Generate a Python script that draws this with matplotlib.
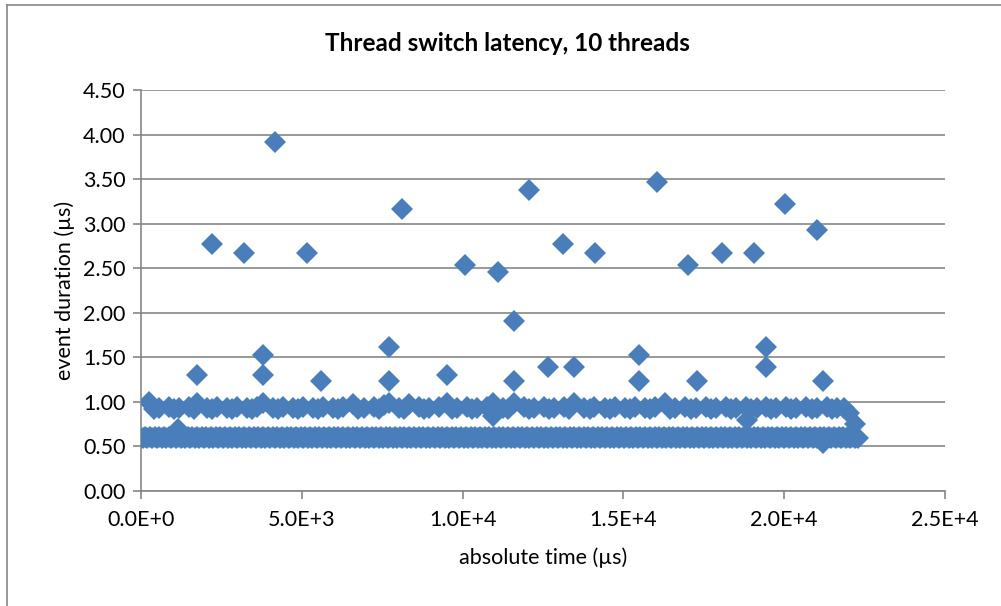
import matplotlib
matplotlib.use("Agg")
import matplotlib.pyplot as plt
from matplotlib.lines import Line2D

# base band, every event sits near 0.60 us (times in us)
base_t = [60, 200, 350, 490, 640, 790, 930, 1080, 1230, 1370, 1520, 1670, 1810, 1960,
          2110, 2250, 2400, 2550, 2690, 2840, 2990, 3130, 3280, 3430, 3570, 3720, 3870,
          4010, 4160, 4310, 4450, 4600, 4750, 4890, 5040, 5190, 5330, 5480, 5630, 5770,
          5920, 6070, 6210, 6360, 6510, 6650, 6800, 6950, 7090, 7240, 7390, 7530, 7680,
          7830, 7970, 8120, 8270, 8410, 8560, 8710, 8850, 9000, 9150, 9290, 9440, 9590,
          9730, 9880, 10030, 10170, 10320, 10470, 10610, 10760, 10910, 11050, 11200,
          11350, 11490, 11640, 11790, 11930, 12080, 12230, 12370, 12520, 12670, 12810,
          12960, 13110, 13250, 13400, 13550, 13690, 13840, 13990, 14130, 14280, 14430,
          14570, 14720, 14870, 15010, 15160, 15310, 15450, 15600, 15750, 15890, 16040,
          16190, 16330, 16480, 16630, 16770, 16920, 17070, 17210, 17360, 17510, 17650,
          17800, 17950, 18090, 18240, 18390, 18530, 18680, 18830, 18970, 19120, 19270,
          19410, 19560, 19710, 19850, 20000, 20150, 20290, 20440, 20590, 20730, 20880,
          21030, 21170, 21320, 21470, 21610, 21760, 21910, 22050, 22200, 22280]
# more events in the same band, slightly longer (0.61 us)
base2_t = [130, 280, 420, 570, 710, 860, 1010, 1150, 1300, 1450, 1590, 1740, 1890, 2030,
           2180, 2330, 2470, 2620, 2770, 2910, 3060, 3210, 3350, 3500, 3650, 3790, 3940,
           4090, 4230, 4380, 4530, 4670, 4820, 4970, 5110, 5260, 5410, 5550, 5700, 5850,
           5990, 6140, 6290, 6430, 6580, 6730, 6870, 7020, 7170, 7310, 7460, 7610, 7750,
           7900, 8050, 8190, 8340, 8490, 8630, 8780, 8930, 9070, 9220, 9370, 9510, 9660,
           9810, 9950, 10100, 10250, 10390, 10540, 10690, 10830, 10980, 11130, 11270,
           11420, 11570, 11710, 11860, 12010, 12150, 12300, 12450, 12590, 12740, 12890,
           13030, 13180, 13330, 13470, 13620, 13770, 13910, 14060, 14210, 14350, 14500,
           14650, 14790, 14940, 15090, 15230, 15380, 15530, 15670, 15820, 15970, 16110,
           16260, 16410, 16550, 16700, 16850, 16990, 17140, 17290, 17430, 17580, 17730,
           17870, 18020, 18170, 18310, 18460, 18610, 18750, 18900, 19050, 19190, 19340,
           19490, 19630, 19780, 19930, 20070, 20220, 20370, 20510, 20660, 20810, 20950,
           21100, 21250, 21390, 21540, 21690, 21830, 21980, 22120, 22240]

# second band around 0.93 - 1.00 us
mid_t = [250, 560, 880, 1190, 1500, 1730, 2050, 2370, 2680, 3000, 3310, 3620, 3780,
         4100, 4400, 4720, 5030, 5350, 5660, 5980, 6290, 6600, 6920, 7230, 7550, 7700,
         8010, 8330, 8640, 8960, 9270, 9500, 9820, 10130, 10450, 10760, 10950, 11250,
         11600, 11900, 12220, 12530, 12850, 13160, 13460, 13790, 14100, 14420, 14730,
         15050, 15360, 15680, 15990, 16300, 16620, 16930, 17250, 17560, 17880, 18190,
         18510, 18820, 19140, 19430, 19750, 20060, 20380, 20690, 21010, 21320, 21640,
         21850]
mid_d = [1.00, 0.93, 0.94, 0.93, 0.94, 0.99, 0.93, 0.94, 0.93, 0.94, 0.93, 0.94, 0.99,
         0.93, 0.94, 0.93, 0.94, 0.93, 0.94, 0.93, 0.94, 0.98, 0.93, 0.94, 0.97, 0.99,
         0.93, 0.98, 0.94, 0.93, 0.94, 0.99, 0.93, 0.94, 0.93, 0.94, 0.99, 0.93, 0.99,
         0.94, 0.93, 0.94, 0.93, 0.94, 0.99, 0.93, 0.94, 0.93, 0.94, 0.93, 0.94, 0.93,
         0.94, 0.99, 0.93, 0.94, 0.93, 0.94, 0.93, 0.94, 0.93, 0.94, 0.93, 0.94, 0.93,
         0.94, 0.93, 0.94, 0.93, 0.94, 0.93, 0.93]
# a few in-between events near 0.92 to thicken the band
mid2_t = [400, 1030, 1650, 2210, 2830, 3460, 4250, 4870, 5500, 6130, 6760, 7390, 8170,
          8800, 9660, 10290, 11420, 12060, 12690, 13320, 13950, 14580, 15210, 15840,
          16460, 17090, 17720, 18350, 18980, 19590, 20220, 20850, 21480]
mid2_d = [0.92] * len(mid2_t)

# scattered events between/below the bands and at the tail end
odd_t = [1150, 10950, 18850, 21200, 22000, 22200]
odd_d = [0.70, 0.84, 0.80, 0.54, 0.88, 0.75]

# spikes
spike_t = [1730, 2200, 3190, 3780, 3780, 4180, 5170, 5600, 7700, 7700, 8110, 9500,
           10090, 11110, 11600, 11600, 12070, 12650, 13120, 13460, 14110, 15500, 15500,
           16030, 17020, 17300, 18070, 19060, 19430, 19430, 20020, 21010, 21200]
spike_d = [1.30, 2.77, 2.67, 1.53, 1.30, 3.92, 2.67, 1.24, 1.62, 1.24, 3.16, 1.30,
           2.54, 2.46, 1.91, 1.24, 3.38, 1.39, 2.77, 1.39, 2.67, 1.53, 1.24, 3.47,
           2.54, 1.24, 2.67, 2.67, 1.62, 1.39, 3.22, 2.93, 1.24]

xticks = [0, 5000, 10000, 15000, 20000, 25000]
xlabels = ["0.0E+0", "5.0E+3", "1.0E+4", "1.5E+4", "2.0E+4", "2.5E+4"]
yticks = [0, 0.5, 1.0, 1.5, 2.0, 2.5, 3.0, 3.5, 4.0, 4.5]

blue = "#4A7EBB"
grey = "#868686"

plt.rcParams['font.family'] = ['Lato', 'DejaVu Sans']

fig = plt.figure(figsize=(10.01, 6.06), dpi=100)
ax = fig.add_axes([141/1001, 1 - 491/606, 804/1001, 401/606])

times = base_t + base2_t + mid_t + mid2_t + odd_t + spike_t
durs = ([0.60] * len(base_t) + [0.61] * len(base2_t) + mid_d + mid2_d
        + odd_d + spike_d)
ax.plot(times, durs, 'D', ls='none', ms=11.5, color=blue, mec=blue, mew=0, zorder=3)

ax.set_xlim(0, 25000)
ax.set_ylim(0, 4.5)
ax.set_xticks(xticks, xlabels)
ax.set_yticks(yticks, ["%.2f" % v for v in yticks])
ax.tick_params(axis='both', labelsize=15.5, color=grey, length=6, width=1.2)
ax.tick_params(axis='x', pad=8)
ax.tick_params(axis='y', pad=5)
ax.grid(axis='y', color=grey, lw=1.2, zorder=0)
ax.set_axisbelow(True)
for s in ['top', 'right']:
    ax.spines[s].set_visible(False)
for s in ['left', 'bottom']:
    ax.spines[s].set_color(grey)
    ax.spines[s].set_linewidth(1.2)

ax.set_xlabel("absolute time (µs)", fontsize=15.5, labelpad=12)
ax.set_ylabel("event duration (µs)", fontsize=15.5, labelpad=6)
ax.set_title("Thread switch latency, 10 threads", fontsize=17.5, fontweight='bold',
             pad=28, x=(507 - 141) / 804)

# chart area border
for xs, ys in [([7/1001, 7/1001], [0, 1 - 5/606]),
               ([7/1001, 1], [1 - 5/606, 1 - 5/606])]:
    fig.add_artist(Line2D(xs, ys, color=grey, lw=1.2, transform=fig.transFigure))

fig.savefig("out.png", dpi=100)
